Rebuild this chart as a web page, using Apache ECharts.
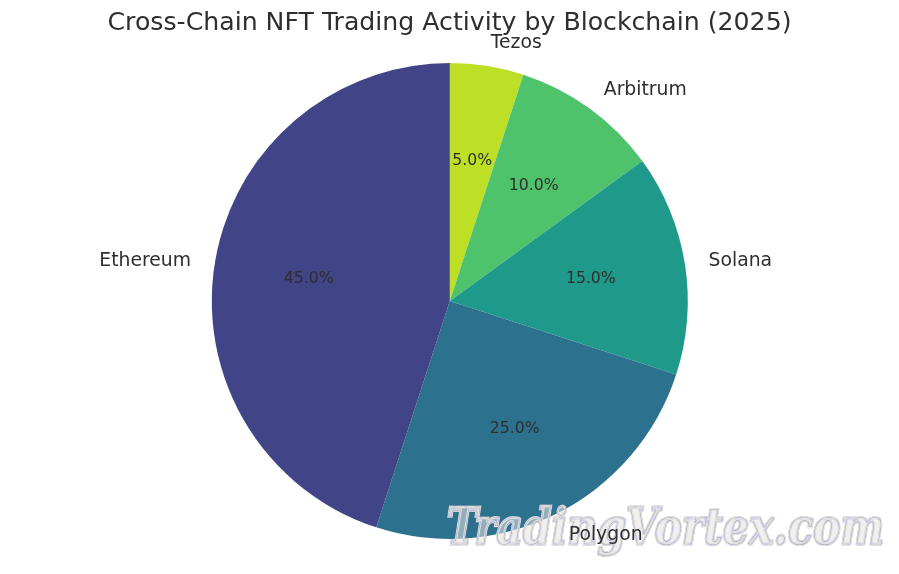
<!DOCTYPE html>
<html><head><meta charset="utf-8">
<style>html,body{margin:0;padding:0;background:#fff}#c{width:899px;height:574px}</style>
<script src="https://cdn.jsdelivr.net/npm/echarts@6/dist/echarts.min.js"></script>
</head><body><div id="c"></div>
<script>
const chartTitle = 'Cross-Chain NFT Trading Activity by Blockchain (2025)';
const watermark = 'TradingVortex.com';
const categories = ['Tezos','Arbitrum','Solana','Polygon','Ethereum'];
const shares = [5,10,15,25,45];
const colors = ['#bddf26','#4ec36b','#1f9a8a','#2c718e','#414487'];
const labelNudge = [-5,-5,-5,-5,5];
const FONT = '"DejaVu Sans"';
const TEXT = '#2e2e2e';
const chart = echarts.init(document.getElementById('c'), null, {renderer:'canvas'});
const center = [449.8,301];
const R = 238;
const transparent = {color:'rgba(0,0,0,0)', borderWidth:0};
const off = {disabled:true};
const wmBase = {text:watermark,fontFamily:'"DejaVu Serif"',fontWeight:'bold',fontStyle:'italic',fontSize:50,align:'center',verticalAlign:'middle'};
const wm = (style)=>({type:'text',z:5,x:665.5,y:531,scaleX:0.825,silent:true,style:Object.assign({},wmBase,style)});
chart.setOption({
  animation:false,
  backgroundColor:'#ffffff',
  title:{text:chartTitle,left:'center',top:6,textStyle:{fontFamily:FONT,fontSize:25.2,fontWeight:'normal',color:TEXT}},
  tooltip:{show:false},
  graphic:[
    wm({fill:'rgba(0,0,0,0)',stroke:'rgba(190,190,190,0.85)',lineWidth:3.2}),
    wm({fill:'rgba(0,0,0,0)',stroke:'rgba(248,248,248,0.9)',lineWidth:2}),
    wm({fill:'rgba(232,228,226,0.55)',stroke:'rgba(110,110,115,0.75)',lineWidth:0.7}),
    wm({fill:'rgba(0,0,0,0)',stroke:'rgba(185,190,250,0.55)',lineWidth:1.6,lineDash:[5,9]})
  ],
  series:[
    {type:'pie',z:1,center,radius:[0,R],startAngle:90,clockwise:true,animation:false,silent:true,emphasis:off,
     label:{show:false},labelLine:{show:false},
     itemStyle:{borderWidth:0},
     data:categories.map((n,i)=>({name:n,value:shares[i],itemStyle:{color:colors[i]}}))},
    {type:'pie',z:10,center,radius:[0,R],startAngle:90,clockwise:true,animation:false,silent:true,emphasis:off,
     avoidLabelOverlap:false,
     label:{show:true,position:'outer',formatter:'{b}',fontFamily:FONT,fontSize:18.8,color:TEXT},
     labelLine:{show:false,length:24,length2:0},
     itemStyle:transparent,
     data:categories.map((n,i)=>({name:n,value:shares[i],label:{offset:[labelNudge[i],1]}}))},
    {type:'pie',z:10,center,radius:[0,R*1.2-6],startAngle:90,clockwise:true,animation:false,silent:true,emphasis:off,
     avoidLabelOverlap:false,
     label:{show:true,position:'inner',rotate:0,offset:[0,0.6],formatter:p=>p.value.toFixed(1)+'%',fontFamily:FONT,fontSize:15.7,color:TEXT},
     labelLine:{show:false},
     itemStyle:transparent,
     data:categories.map((n,i)=>({name:n,value:shares[i]}))}
  ]
});
</script></body></html>
